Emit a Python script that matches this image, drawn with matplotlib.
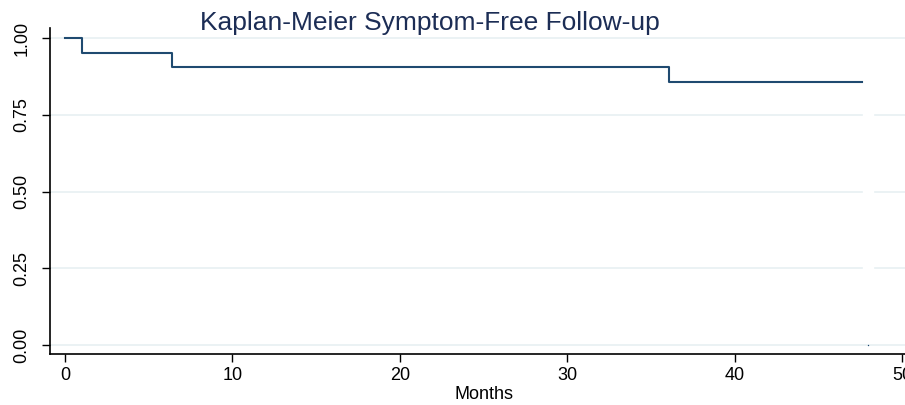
import matplotlib
matplotlib.use('Agg')
import matplotlib.pyplot as plt
from matplotlib import font_manager

# Kaplan-Meier estimate (21 subjects)
times = [0, 1.0, 6.4, 36.1, 47.6]
surv = [1.0, 0.952, 0.905, 0.857, 0.857]
censor_t = [48.0]
censor_s = [0.0]

xticks = [0, 10, 20, 30, 40, 50]
yticks = [0, 0.25, 0.5, 0.75, 1.0]
ytick_labels = ['0.00', '0.25', '0.50', '0.75', '1.00']

navy = '#1f4a70'
grid_col = '#e8f0f2'

names = {f.name for f in font_manager.fontManager.ttflist}
narrow = 'Liberation Sans Narrow' if 'Liberation Sans Narrow' in names else 'Liberation Sans'
plt.rcParams['font.family'] = ['Liberation Sans', 'DejaVu Sans']

fig = plt.figure(figsize=(9.05, 4.05), dpi=100)
ax = fig.add_axes([50 / 905, 51 / 405, 867 / 905, 326 / 405])

# white band that breaks the grid near the last follow-up time
ax.axvspan(47.65, 48.3, ymin=0.06, ymax=0.93, color='white', zorder=1)

ax.step(times, surv, where='post', color=navy, lw=1.5, zorder=3)
ax.plot(censor_t, censor_s, 'o', ms=1.0, mew=0, color=navy, zorder=3)

ax.set_xlim(-0.9, 50.9)
ax.set_ylim(-0.029, 1.033)

ax.set_yticks(yticks)
ax.set_yticklabels(ytick_labels, rotation=90, va='center', fontsize=13)
ax.set_xticks(xticks)
ax.set_xticklabels([str(t) for t in xticks], fontsize=13, family=narrow)
ax.tick_params(axis='y', length=6, width=1, pad=8)
ax.tick_params(axis='x', length=6, width=1, pad=3)

ax.yaxis.grid(True, color=grid_col, lw=1.2, zorder=0)
ax.set_axisbelow(True)

for s in ['top', 'right']:
    ax.spines[s].set_visible(False)
for s in ['left', 'bottom']:
    ax.spines[s].set_linewidth(1.2)

ax.set_xlabel('Months', fontsize=13, family=narrow, labelpad=2)

fig.text(0.475, 375 / 405, 'Kaplan-Meier Symptom-Free Follow-up', ha='center', va='baseline',
         fontsize=19, color='#1c2d55')

fig.savefig('out.png', dpi=100)
